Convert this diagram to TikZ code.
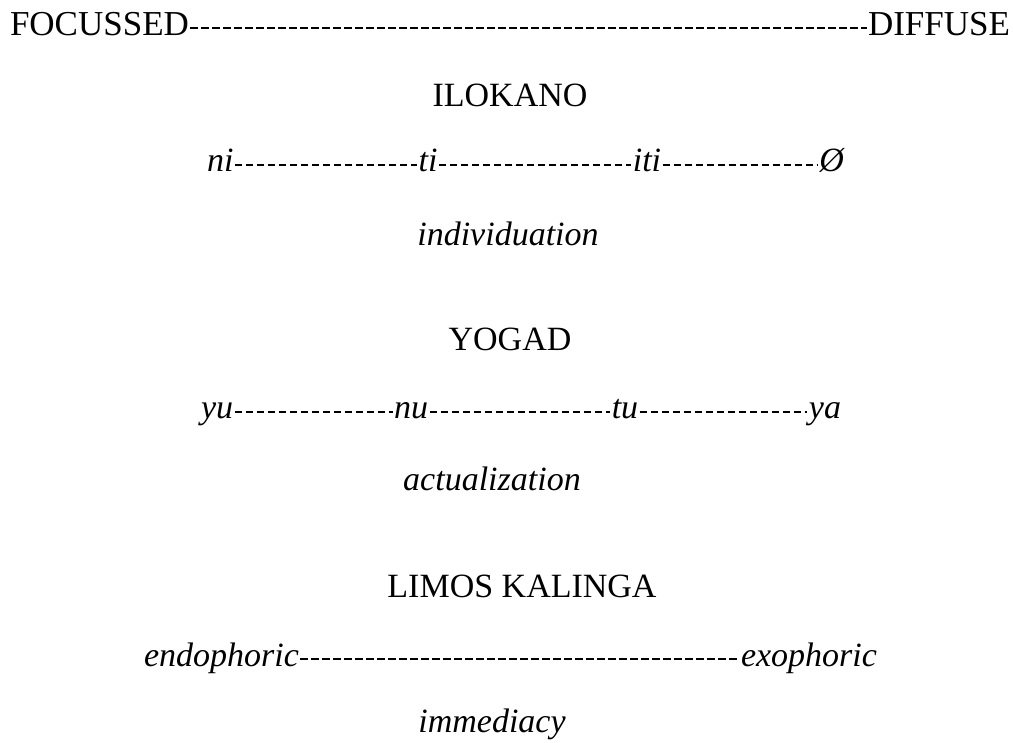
\documentclass[tikz,border=0pt]{standalone}
\usepackage{fontspec}
\setmainfont{Liberation Serif}

\begin{document}
\begin{tikzpicture}[x=1pt,y=1pt,
  every node/.style={inner sep=0pt,outer sep=0pt,anchor=base},
  pole/.style={font=\fontsize{35}{40}\selectfont,text height=16pt,text depth=0pt},
  lang/.style={font=\fontsize{34}{40}\selectfont},
  form/.style={font=\fontsize{34}{40}\selectfont\itshape,text height=14pt,text depth=0pt},
  gloss/.style={font=\fontsize{34}{40}\selectfont\itshape},
  hyph/.style={line width=2.6pt,dash pattern=on 7.5pt off 3.5pt,shorten <=1.5pt,shorten >=1.5pt}]
\useasboundingbox (0,0) rectangle (1013,-743);

% scale ends
\node[pole,anchor=base west] (focussed) at (10,-36) {FOCUSSED};
\node[pole,anchor=base east] (diffuse) at (1010,-36) {DIFFUSE};
\draw[hyph] (focussed) -- (diffuse);

% Ilokano
\node[lang] (ilokano) at (510,-107) {ILOKANO};
\node[form,anchor=base west] (ni) at (207,-172) {ni};
\node[form] (ti) at (428,-172) {ti};
\node[form] (iti) at (647,-172) {iti};
\node[form,anchor=base east] (zero) at (844,-172) {Ø};
\draw[hyph] (ni) -- (ti);
\draw[hyph] (ti) -- (iti);
\draw[hyph] (iti) -- (zero);
\node[gloss] (individuation) at (508,-246) {individuation};

% Yogad
\node[lang] (yogad) at (510,-351) {YOGAD};
\node[form,anchor=base west] (yu) at (201,-419) {yu};
\node[form] (nu) at (411,-419) {nu};
\node[form] (tu) at (625,-419) {tu};
\node[form,anchor=base east] (ya) at (841,-419) {ya};
\draw[hyph] (yu) -- (nu);
\draw[hyph] (nu) -- (tu);
\draw[hyph] (tu) -- (ya);
\node[gloss] (actualization) at (492,-490) {actualization};

% Limos Kalinga
\node[lang] (limos) at (522,-597) {LIMOS KALINGA};
\node[form,anchor=base west] (endo) at (144,-666) {endophoric};
\node[form,anchor=base east] (exo) at (877,-666) {exophoric};
\draw[hyph] (endo) -- (exo);
\node[gloss] (immediacy) at (492,-732) {immediacy};
\end{tikzpicture}
\end{document}
